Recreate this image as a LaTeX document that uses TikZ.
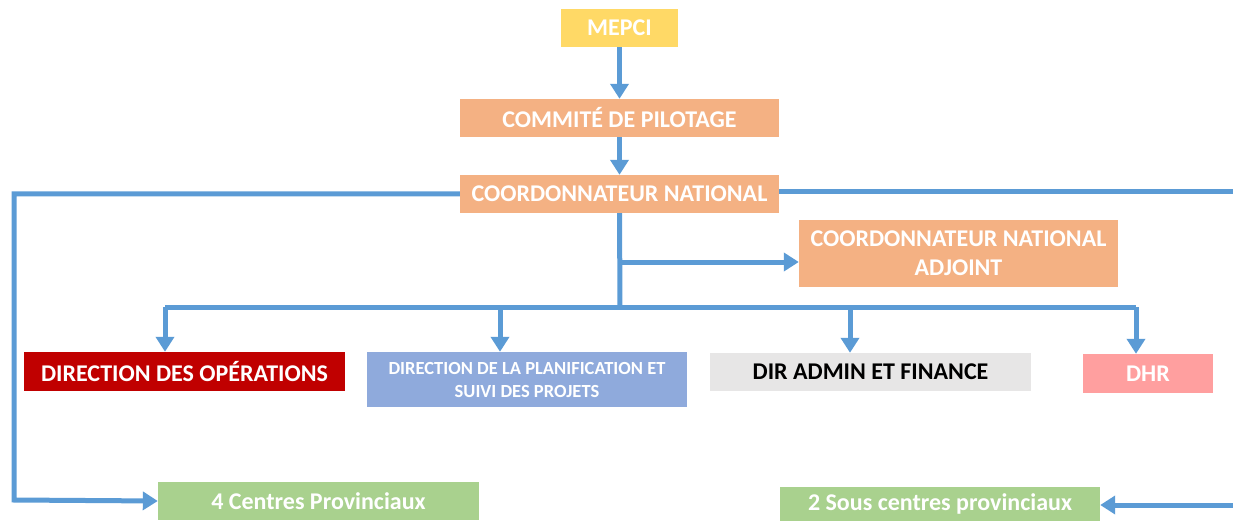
\documentclass[tikz,border=0pt]{standalone}
\usepackage{fontspec}
\setmainfont{Carlito}
\usetikzlibrary{arrows.meta}
\definecolor{cyel}{HTML}{FFD966}
\definecolor{corg}{HTML}{F4B183}
\definecolor{cred}{HTML}{C00000}
\definecolor{cblu}{HTML}{8FAADC}
\definecolor{cgry}{HTML}{E7E6E6}
\definecolor{cpnk}{HTML}{FF9F9F}
\definecolor{cgrn}{HTML}{A9D18E}
\definecolor{cline}{HTML}{5B9BD5}
\tikzset{
  box/.style={rectangle, inner sep=0pt, text=white, font=\bfseries\fontsize{24}{28}\selectfont, align=center},
  conn/.style={draw=cline, line width=5pt},
  arr/.style={conn, -{Triangle[width=18pt,length=15pt]}},
}
\begin{document}
\begin{tikzpicture}[x=1pt,y=-1pt]
\useasboundingbox (0,0) rectangle (1233,521);
\node[box, fill=cyel, minimum width=117pt, minimum height=38pt] (mepci) at (619.5,28) {MEPCI};
\node[box, fill=corg, minimum width=319pt, minimum height=38pt] (comite) at (619.5,118) {COMMITÉ DE PILOTAGE};
\node[box, fill=corg, minimum width=319pt, minimum height=38pt] (coord) at (619.5,194) {COORDONNATEUR NATIONAL};
\node[box, fill=corg, minimum width=319pt, minimum height=67pt, font=\bfseries\fontsize{24}{29}\selectfont] (adj) at (958.5,253.5) {COORDONNATEUR NATIONAL\\ADJOINT};
\node[box, fill=cred, minimum width=321pt, minimum height=39pt] (dop) at (184.5,371.5) {DIRECTION DES OPÉRATIONS};
\node[box, fill=cblu, minimum width=320pt, minimum height=55pt, font=\bfseries\fontsize{18.5}{23}\selectfont] (dpl) at (527,379.5) {DIRECTION DE LA PLANIFICATION ET\\SUIVI DES PROJETS};
\node[box, fill=cgry, text=black, minimum width=321pt, minimum height=38pt] (daf) at (870.5,372) {DIR ADMIN ET FINANCE};
\node[box, fill=cpnk, minimum width=130pt, minimum height=39pt] (dhr) at (1148,373.5) {DHR};
\node[box, fill=cgrn, minimum width=321pt, minimum height=38pt] (cp) at (318.5,501) {4 Centres Provinciaux};
\node[box, fill=cgrn, minimum width=320pt, minimum height=35pt] (scp) at (940,504) {2 Sous centres provinciaux};

\coordinate (bus) at (620,307);
\coordinate (split) at (620,262);
\draw[arr] (mepci) -- (comite);
\draw[arr] (comite) -- (coord);
\draw[conn] (coord.south) -- (bus);
\draw[arr] (split) -- (adj.west |- split);
\draw[conn] (165,307) -- (1136,307);
\draw[arr] (165,307) -- (dop.north -| 165,0);
\draw[arr] (500,307) -- (dpl.north -| 500,0);
\draw[arr] (850,307) -- (daf.north -| 850,0);
\draw[arr] (1136,307) -- (dhr.north -| 1136,0);
\draw[arr] (coord.west) -- (14,194) -- (14,500) -- (cp.west);
\coordinate (edgeA) at (1233,192);
\coordinate (edgeB) at (1233,505);
\draw[conn] (coord.east |- edgeA) -- (edgeA);
\draw[arr] (edgeB) -- (scp.east |- edgeB);
\end{tikzpicture}
\end{document}
